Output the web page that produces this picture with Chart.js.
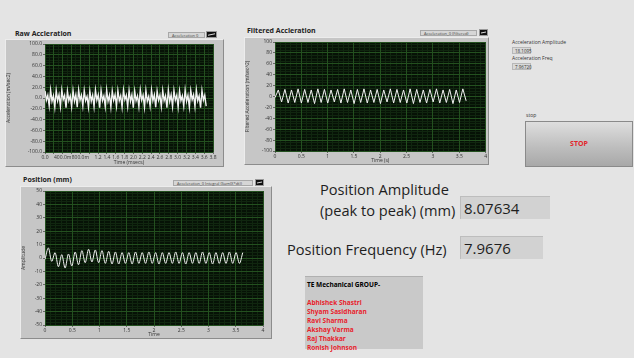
<!DOCTYPE html>
<html>
<head>
<meta charset="utf-8">
<script src="https://cdn.jsdelivr.net/npm/chart.js@4/dist/chart.umd.min.js"></script>
<style>
  body { margin: 0; width: 634px; height: 358px; background: #e4e4e4; font-family: "Open Sans", sans-serif; overflow: hidden; position: relative; }
  .frame { position: absolute; background: #c6c6c6; border: 1px solid; border-color: #ececec #8c8c8c #8c8c8c #ececec; box-sizing: border-box; }
  .frame canvas { position: absolute; left: 0; top: 0; }
  .ptitle { position: absolute; font-weight: bold; font-size: 7px; color: #222; white-space: nowrap; }
  .legend { position: absolute; background: #d6d6d6; border: 1px solid #a8a8a8; box-sizing: border-box; font-size: 4px; color: #444; line-height: 5px; padding-left: 3px; white-space: nowrap; }
  .icon { position: absolute; background: #111; border: 1px solid #999; box-sizing: border-box; }
  .icon::after { content: ""; position: absolute; left: 1px; right: 1px; top: 2px; height: 1px; border-top: 1px solid #ddd; transform: skewY(-12deg); }
  .small { position: absolute; font-size: 5px; color: #333; white-space: nowrap; }
  .sbox { position: absolute; background: #d9d9d9; border: 1px solid #b8b8b8; box-sizing: border-box; font-size: 4.5px; color: #333; line-height: 6px; padding-left: 2px; }
  .big { position: absolute; font-size: 14.6px; color: #1e1e1e; white-space: nowrap; line-height: 18px; }
  .vbox { position: absolute; background: #d2d2d2; border-top: 1px solid #bdbdbd; border-left: 1px solid #bdbdbd; box-sizing: border-box; font-size: 15px; color: #1e1e1e; line-height: 22px; padding-left: 3px; }
  #stop { position: absolute; left: 525px; top: 121px; width: 108px; height: 46px; box-sizing: border-box; border: 1px solid #8a8a8a; background: linear-gradient(#dedede, #bcbcbc 60%, #a8a8a8); color: #e2252b; font-weight: bold; font-size: 7px; text-align: center; line-height: 44px; }
  #team { position: absolute; left: 305px; top: 276px; width: 118px; height: 73px; background: #c9c9c9; border-top: 1px solid #b0b0b0; box-sizing: border-box; padding: 3px 0 0 2px; font-weight: bold; font-size: 6.5px; line-height: 9px; }
  #team .red { color: #e8222c; }
</style>
</head>
<body>

<div class="ptitle" style="left:15px;top:29px;">Raw Accleration</div>
<div class="legend" style="left:168px;top:32px;width:37px;height:6px;">Acceleration 0</div>
<div class="icon" style="left:206px;top:31px;width:11px;height:7px;"></div>
<div class="frame" style="left:5px;top:39px;width:219px;height:128px;"><canvas id="rawChart" width="217" height="126"></canvas></div>

<div class="ptitle" style="left:247px;top:26px;">Filtered Accleration</div>
<div class="legend" style="left:420px;top:30px;width:57px;height:6px;">Acceleration_0 (Filtered)</div>
<div class="icon" style="left:479px;top:29px;width:9px;height:7px;"></div>
<div class="frame" style="left:244px;top:37px;width:245px;height:128px;"><canvas id="filtChart" width="243" height="126"></canvas></div>

<div class="ptitle" style="left:23px;top:175px;">Position (mm)</div>
<div class="legend" style="left:173px;top:180px;width:80px;height:6px;">Acceleration_0 Integral (Sum(X*dt))</div>
<div class="icon" style="left:255px;top:179px;width:9px;height:7px;"></div>
<div class="frame" style="left:20px;top:186px;width:252px;height:153px;"><canvas id="posChart" width="250" height="151"></canvas></div>

<div class="small" style="left:512px;top:39px;">Acceleration Amplitude</div>
<div class="sbox" style="left:512px;top:47px;width:19px;height:7px;">18.1095</div>
<div class="small" style="left:512px;top:55px;">Acceleration Freq</div>
<div class="sbox" style="left:512px;top:63px;width:19px;height:7px;">7.96720</div>

<div class="small" style="left:526px;top:112px;">stop</div>
<div id="stop">STOP</div>

<div class="big" style="left:320px;top:180px;">Position Amplitude</div>
<div class="big" style="left:320px;top:201px;">(peak to peak) (mm)</div>
<div class="vbox" style="left:460px;top:196px;width:90px;height:23px;">8.07634</div>
<div class="big" style="left:287px;top:240px;">Position Frequency (Hz)</div>
<div class="vbox" style="left:460px;top:236px;width:83px;height:23px;">7.9676</div>

<div id="team">
  TE Mechanical GROUP-<br><br>
  <span class="red">Abhishek Shastri<br>Shyam Sasidharan<br>Ravi Sharma<br>Akshay Varma<br>Raj Thakkar<br>Ronish Johnson</span>
</div>

<script>
// sample spacing (s) of each trace
const rawDt = 0.0317;
const filtDt = 0.0626;
const posDt = 0.0615;

// raw acceleration (m/sec^2), 4 samples per cycle
const rawAccel = [
  13, -4, 5, -15,  15, -6, 4, -17,  14, -5, 6, -16,  15, -3, 5, -18,
  13, -5, 4, -16,  14, -6, 6, -17,  15, -4, 5, -15,  14, -5, 3, -17,
  13, -6, 5, -16,  15, -4, 6, -18,  14, -5, 4, -16,  15, -6, 5, -17,
  13, -4, 6, -15,  14, -5, 4, -17,  15, -3, 5, -16,  14, -6, 6, -18,
  13, -5, 4, -16,  15, -4, 5, -17,  14, -6, 3, -15,  15, -5, 6, -17,
  13, -4, 5, -16,  14, -5, 4, -18,  15, -6, 6, -16,  14, -4, 5, -17,
  13, -5, 4, -15,  15, -6, 5, -17,  14, -3, 6, -16,  15, -5, 4, -18,
  14, -4, 5, -15
];

// filtered acceleration (m/sec^2)
const filtAccel = [
  -2, 12, -10, 13, -12, 12, -11, 14, -12, 13, -11, 12, -13, 14, -11, 13,
  -12, 12, -10, 13, -12, 14, -11, 12, -13, 13, -11, 14, -12, 12, -11, 13,
  -13, 12, -10, 14, -12, 13, -11, 12, -12, 14, -13, 13, -11, 12, -12, 13,
  -10, 14, -12, 12, -11, 13, -13, 12, -11, 14, -8
];

// position (mm)
const position = [
  -1, 7.5, -2.5, 4, -6.5, 2.5, -7.5, 3, -6, 4.5, -5, 5.5, -3.5, 6.5, -3, 6,
  -3.5, 5.5, -4, 5, -4.5, 4.5, -4.5, 4, -4, 4, -4.5, 4.5, -4, 4, -4, 4.5,
  -4, 4, -4.5, 4, -4, 4, -4, 4.5, -4, 4, -4.5, 4, -4, 4, -4, 4.5,
  -4, 4, -4.5, 4, -4, 4, -4, 4.5, -4, 4, -4, 4
];

const tickFont = { family: 'Open Sans', size: 5 };
const tickColor = '#333';
const majorGrid = '#23501f';
const minorGrid = '#10260f';

const scopeBg = {
  id: 'scopeBg',
  beforeDraw(chart) {
    const { ctx, chartArea: a } = chart;
    ctx.save();
    ctx.fillStyle = '#061206';
    ctx.fillRect(a.left, a.top, a.width, a.height);
    ctx.restore();
  }
};

function toPoints(values, dt) {
  return values.map((v, i) => ({ x: i * dt, y: v }));
}

function makeScope(id, cfg) {
  return new Chart(document.getElementById(id), {
    type: 'line',
    data: {
      datasets: [{
        data: toPoints(cfg.values, cfg.dt),
        borderColor: '#f2f2f2',
        borderWidth: cfg.lineWidth,
        pointRadius: 0,
        tension: 0,
        cubicInterpolationMode: cfg.smooth ? 'monotone' : 'default'
      }]
    },
    options: {
      responsive: false,
      animation: false,
      events: [],
      layout: { padding: cfg.padding },
      plugins: { legend: { display: false }, tooltip: { enabled: false } },
      scales: {
        x: {
          type: 'linear', min: cfg.xMin, max: cfg.xMax,
          ticks: { stepSize: cfg.xStep, autoSkip: false, maxRotation: 0, font: tickFont, color: tickColor, padding: 1,
                   callback: cfg.xLabel || (v => v) },
          grid: { color: majorGrid, tickLength: 2, tickColor: '#666' },
          border: { display: false },
          title: { display: true, text: cfg.xTitle, font: tickFont, color: tickColor, padding: 0 },
          afterFit: s => { s.height = cfg.xHeight; }
        },
        xMinor: {
          type: 'linear', position: 'bottom', min: cfg.xMin, max: cfg.xMax,
          ticks: { display: false, stepSize: cfg.xMinor, autoSkip: false },
          grid: { color: minorGrid, drawTicks: false, z: -2 },
          border: { display: false },
          afterFit: s => { s.height = 0; }
        },
        y: {
          type: 'linear', min: cfg.yMin, max: cfg.yMax,
          ticks: { stepSize: cfg.yStep, autoSkip: false, font: tickFont, color: tickColor, padding: 1,
                   callback: cfg.yLabel || (v => v) },
          grid: { color: majorGrid, tickLength: 2, tickColor: '#666' },
          border: { display: false },
          title: { display: true, text: cfg.yTitle, font: tickFont, color: tickColor, padding: 0 },
          afterFit: s => { s.width = cfg.yWidth; }
        },
        yMinor: {
          type: 'linear', position: 'left', min: cfg.yMin, max: cfg.yMax,
          ticks: { display: false, stepSize: cfg.yMinor, autoSkip: false },
          grid: { color: minorGrid, drawTicks: false, z: -2 },
          border: { display: false },
          afterFit: s => { s.width = 0; }
        }
      }
    },
    plugins: [scopeBg]
  });
}

makeScope('rawChart', {
  values: rawAccel, dt: rawDt, lineWidth: 1.4,
  xMin: 0, xMax: 3.8, xStep: 0.2, xMinor: 0.1, xTitle: 'Time (msecs)',
  xLabel: v => {
    const r = Math.round(v * 10);
    if (r === 0) return '0.0';
    if (r < 12) return r % 4 === 0 ? (v * 1000).toFixed(1) + 'm' : '';
    return v.toFixed(1);
  },
  yMin: -100, yMax: 100, yStep: 20, yMinor: 5, yTitle: 'Acceleration (m/sec2)',
  yLabel: v => v.toFixed(1),
  yWidth: 39, xHeight: 14, padding: { left: 0, right: 10, top: 3, bottom: 0 }
});

makeScope('filtChart', {
  values: filtAccel, dt: filtDt, lineWidth: 1,
  xMin: 0, xMax: 4, xStep: 0.5, xMinor: 0.1, xTitle: 'Time (s)',
  yMin: -100, yMax: 100, yStep: 20, yMinor: 5, yTitle: 'Filtered Acceleration (m/sec^2)',
  yWidth: 30, xHeight: 13, padding: { left: 0, right: 1, top: 2, bottom: 0 }
});

makeScope('posChart', {
  values: position, dt: posDt, lineWidth: 1, smooth: true,
  xMin: 0, xMax: 4, xStep: 0.5, xMinor: 0.1, xTitle: 'Time',
  yMin: -50, yMax: 50, yStep: 10, yMinor: 2, yTitle: 'Amplitude',
  yWidth: 24, xHeight: 13, padding: { left: 0, right: 8, top: 3, bottom: 0 }
});
</script>
</body>
</html>
